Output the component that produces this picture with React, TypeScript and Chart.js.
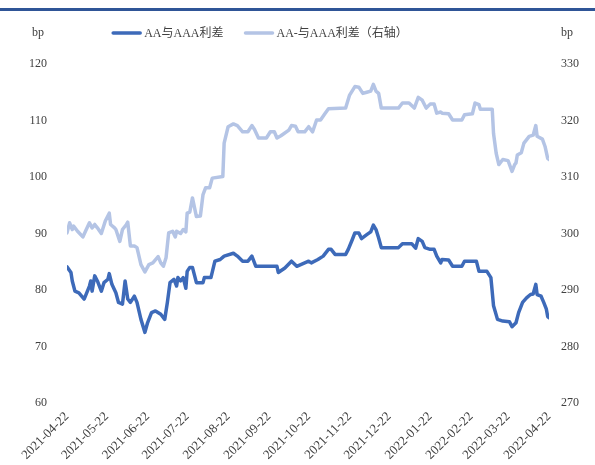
import React, { useEffect, useRef } from 'react';
import { Chart, registerables } from 'chart.js';

Chart.register(...registerables);

const FONT = "'Liberation Serif', 'Noto Sans CJK SC', serif";
const TEXT = '#404040';
const DARK = '#3D6AB9';
const LIGHT = '#B4C4E5';

const seriesNames = ['AA与AAA利差', 'AA-与AAA利差（右轴）'];
const unitLabel = 'bp';

const tickDates = [
  '2021-04-22', '2021-05-22', '2021-06-22', '2021-07-22', '2021-08-22', '2021-09-22', '2021-10-22',
  '2021-11-22', '2021-12-22', '2022-01-22', '2022-02-22', '2022-03-22', '2022-04-22',
];

const aaDates = [
  '2021-04-22', '2021-04-25', '2021-04-26', '2021-04-28', '2021-05-01', '2021-05-05', '2021-05-09', '2021-05-10',
  '2021-05-11', '2021-05-13', '2021-05-15', '2021-05-18', '2021-05-20', '2021-05-23', '2021-05-24', '2021-05-26',
  '2021-05-29', '2021-05-31', '2021-06-03', '2021-06-05', '2021-06-07', '2021-06-09', '2021-06-12', '2021-06-14',
  '2021-06-17', '2021-06-20', '2021-06-22', '2021-06-25', '2021-06-28', '2021-07-02', '2021-07-05', '2021-07-07',
  '2021-07-09', '2021-07-12', '2021-07-14', '2021-07-15', '2021-07-17', '2021-07-19', '2021-07-21', '2021-07-22',
  '2021-07-24', '2021-07-26', '2021-07-29', '2021-08-03', '2021-08-04', '2021-08-09', '2021-08-12', '2021-08-16',
  '2021-08-19', '2021-08-26', '2021-08-29', '2021-09-02', '2021-09-06', '2021-09-09', '2021-09-12', '2021-09-28',
  '2021-09-29', '2021-10-04', '2021-10-09', '2021-10-13', '2021-10-19', '2021-10-22', '2021-10-24', '2021-10-29',
  '2021-11-02', '2021-11-06', '2021-11-08', '2021-11-11', '2021-11-19', '2021-11-21', '2021-11-24', '2021-11-26',
  '2021-11-29', '2021-12-01', '2021-12-05', '2021-12-08', '2021-12-10', '2021-12-12', '2021-12-14', '2021-12-16',
  '2021-12-29', '2022-01-01', '2022-01-08', '2022-01-11', '2022-01-13', '2022-01-16', '2022-01-18', '2022-01-22',
  '2022-01-25', '2022-01-27', '2022-01-30', '2022-01-31', '2022-02-05', '2022-02-08', '2022-02-15', '2022-02-17',
  '2022-02-26', '2022-02-28', '2022-03-06', '2022-03-09', '2022-03-11', '2022-03-14', '2022-03-18', '2022-03-23',
  '2022-03-25', '2022-03-28', '2022-03-30', '2022-04-02', '2022-04-05', '2022-04-08', '2022-04-10', '2022-04-12',
  '2022-04-13', '2022-04-16', '2022-04-18', '2022-04-20', '2022-04-21', '2022-04-22',
];

const aaValues = [
  84.1, 83.1, 81.6, 79.8, 79.5, 78.4, 80.7, 81.6,
  79.8, 82.5, 81.6, 79.8, 81.3, 81.9, 82.9, 81.0,
  79.5, 77.8, 77.5, 81.6, 78.4, 77.8, 78.9, 77.8,
  74.8, 72.5, 74.2, 76.0, 76.3, 75.7, 74.8, 77.8,
  81.3, 81.9, 80.7, 82.2, 81.6, 82.2, 80.3, 83.3,
  84.0, 84.0, 81.3, 81.3, 82.2, 82.2, 85.1, 85.4,
  86.0, 86.5, 86.0, 85.1, 85.1, 86.0, 84.2, 84.2,
  83.1, 83.9, 85.1, 84.2, 84.8, 85.1, 84.8, 85.4,
  86.0, 87.2, 87.2, 86.3, 86.3, 87.2, 88.9, 90.1,
  90.1, 89.1, 89.8, 90.3, 91.5, 90.7, 89.2, 87.5,
  87.5, 88.2, 88.2, 87.4, 89.1, 88.6, 87.5, 87.2,
  87.2, 86.0, 84.8, 85.4, 85.3, 84.2, 84.2, 85.1,
  85.1, 83.3, 83.3, 82.2, 77.2, 74.8, 74.5, 74.4,
  73.5, 74.2, 76.0, 77.8, 78.6, 79.2, 79.3, 81.0,
  79.2, 78.9, 77.8, 76.6, 75.3, 75.1,
];

const aaMinusDates = [
  '2021-04-22', '2021-04-24', '2021-04-26', '2021-04-27', '2021-04-30', '2021-05-04', '2021-05-06', '2021-05-09',
  '2021-05-11', '2021-05-13', '2021-05-15', '2021-05-18', '2021-05-21', '2021-05-24', '2021-05-25', '2021-05-28',
  '2021-05-29', '2021-06-01', '2021-06-03', '2021-06-06', '2021-06-07', '2021-06-09', '2021-06-12', '2021-06-14',
  '2021-06-17', '2021-06-20', '2021-06-23', '2021-06-26', '2021-06-30', '2021-07-02', '2021-07-04', '2021-07-06',
  '2021-07-08', '2021-07-11', '2021-07-13', '2021-07-14', '2021-07-17', '2021-07-19', '2021-07-21', '2021-07-22',
  '2021-07-24', '2021-07-26', '2021-07-29', '2021-08-01', '2021-08-03', '2021-08-05', '2021-08-08', '2021-08-10',
  '2021-08-18', '2021-08-19', '2021-08-22', '2021-08-26', '2021-08-29', '2021-09-02', '2021-09-06', '2021-09-09',
  '2021-09-11', '2021-09-14', '2021-09-20', '2021-09-23', '2021-09-26', '2021-09-28', '2021-10-01', '2021-10-07',
  '2021-10-09', '2021-10-12', '2021-10-14', '2021-10-19', '2021-10-22', '2021-10-25', '2021-10-28', '2021-10-31',
  '2021-11-03', '2021-11-06', '2021-11-19', '2021-11-22', '2021-11-26', '2021-11-29', '2021-12-02', '2021-12-05',
  '2021-12-08', '2021-12-10', '2021-12-12', '2021-12-14', '2021-12-16', '2021-12-29', '2022-01-01', '2022-01-06',
  '2022-01-10', '2022-01-13', '2022-01-16', '2022-01-19', '2022-01-22', '2022-01-25', '2022-01-27', '2022-01-30',
  '2022-01-31', '2022-02-05', '2022-02-08', '2022-02-15', '2022-02-17', '2022-02-23', '2022-02-25', '2022-02-28',
  '2022-03-01', '2022-03-10', '2022-03-11', '2022-03-13', '2022-03-15', '2022-03-18', '2022-03-22', '2022-03-25',
  '2022-03-27', '2022-03-28', '2022-03-29', '2022-04-01', '2022-04-03', '2022-04-07', '2022-04-10', '2022-04-12',
  '2022-04-13', '2022-04-17', '2022-04-19', '2022-04-21', '2022-04-22',
];

const aaMinusValues = [
  300.1, 301.9, 300.7, 301.3, 300.4, 299.4, 300.4, 301.9,
  301.0, 301.6, 301.0, 300.0, 302.2, 303.6, 301.6, 301.0,
  300.7, 298.6, 300.7, 301.6, 302.0, 297.8, 297.8, 297.5,
  294.5, 293.2, 294.5, 294.8, 295.9, 294.8, 294.2, 295.7,
  300.1, 300.4, 299.4, 300.4, 300.0, 300.7, 300.3, 303.6,
  303.8, 306.3, 303.0, 303.1, 306.9, 308.1, 308.1, 309.8,
  310.1, 316.0, 318.9, 319.4, 319.1, 318.0, 318.0, 319.1,
  318.4, 316.9, 316.9, 318.0, 318.0, 316.9, 317.3, 318.3,
  319.1, 319.0, 318.0, 318.0, 318.9, 318.0, 320.1, 320.1,
  321.1, 322.1, 322.2, 324.5, 326.0, 325.9, 324.8, 325.0,
  325.2, 326.4, 325.2, 324.8, 322.2, 322.2, 323.1, 323.1,
  322.2, 324.1, 323.6, 322.2, 322.9, 322.9, 321.3, 321.5,
  321.3, 321.2, 320.1, 320.1, 321.0, 321.2, 323.1, 322.8,
  322.0, 322.0, 317.7, 314.2, 312.2, 313.1, 312.9, 311.0,
  312.2, 312.5, 313.9, 314.3, 316.0, 317.2, 317.4, 319.1,
  317.2, 316.7, 315.4, 313.3, 313.1,
];

const BASE = Date.UTC(2021, 3, 22);
const dayOf = (s: string) => {
  const [y, m, d] = s.split('-').map(Number);
  return Math.round((Date.UTC(y, m - 1, d) - BASE) / 86400000);
};

const tickDays = tickDates.map(dayOf);
const tickLabelByDay: Record<number, string> = {};
tickDates.forEach((d, i) => { tickLabelByDay[tickDays[i]] = d; });

const decorPlugin = {
  id: 'decor',
  afterDraw(chart: any) {
    const ctx = chart.ctx as CanvasRenderingContext2D;
    ctx.save();
    // top rule
    ctx.fillStyle = '#2F5597';
    ctx.fillRect(0, 8, chart.width, 3);
    ctx.font = `12px ${FONT}`;
    ctx.fillStyle = TEXT;
    ctx.textBaseline = 'middle';
    ctx.textAlign = 'left';
    ctx.fillText(unitLabel, 32, 33);
    ctx.fillText(unitLabel, 561, 33);
    // legend
    const colors = [DARK, LIGHT];
    const lineLen = 29;
    const gapText = 3;
    const gapItem = 21;
    const widths = seriesNames.map((n) => ctx.measureText(n).width);
    const total = widths.reduce((a, w) => a + lineLen + gapText + w, 0) + gapItem;
    let x = 260 - total / 2;
    const y = 33;
    seriesNames.forEach((n, i) => {
      ctx.strokeStyle = colors[i];
      ctx.lineWidth = 3.5;
      ctx.lineCap = 'round';
      ctx.beginPath();
      ctx.moveTo(x + 1, y);
      ctx.lineTo(x + lineLen - 1, y);
      ctx.stroke();
      x += lineLen + gapText;
      ctx.fillStyle = TEXT;
      ctx.fillText(n, x, y + 1);
      x += widths[i] + gapItem;
    });
    ctx.restore();
  },
};

export default function App() {
  const ref = useRef<HTMLCanvasElement | null>(null);

  useEffect(() => {
    if (!ref.current) return;
    const font = { family: FONT, size: 12 };
    const chart = new Chart(ref.current, {
      type: 'line',
      data: {
        datasets: [
          {
            label: seriesNames[0],
            data: aaDates.map((d, i) => ({ x: dayOf(d), y: aaValues[i] })),
            borderColor: DARK,
            backgroundColor: DARK,
            borderWidth: 3.5,
            pointRadius: 0,
            tension: 0,
            borderJoinStyle: 'round',
            borderCapStyle: 'round',
            yAxisID: 'y',
          },
          {
            label: seriesNames[1],
            data: aaMinusDates.map((d, i) => ({ x: dayOf(d), y: aaMinusValues[i] })),
            borderColor: LIGHT,
            backgroundColor: LIGHT,
            borderWidth: 3.5,
            pointRadius: 0,
            tension: 0,
            borderJoinStyle: 'round',
            borderCapStyle: 'round',
            yAxisID: 'y1',
          },
        ],
      },
      options: {
        animation: false,
        responsive: false,
        devicePixelRatio: 1,
        layout: { padding: { top: 64, left: 0, right: 0, bottom: 0 } },
        plugins: { legend: { display: false }, tooltip: { enabled: false } },
        scales: {
          x: {
            type: 'linear',
            min: 0,
            max: tickDays[tickDays.length - 1],
            grid: { display: false, drawTicks: false },
            border: { display: false },
            afterBuildTicks: (s: any) => { s.ticks = tickDays.map((v) => ({ value: v })); },
            afterFit: (s: any) => { s.height = 62; },
            ticks: {
              autoSkip: false,
              minRotation: 45,
              maxRotation: 45,
              padding: 6,
              font: { family: FONT, size: 13 },
              color: TEXT,
              callback: (v: any) => tickLabelByDay[Number(v)] ?? '',
            },
          },
          y: {
            position: 'left',
            min: 60,
            max: 120,
            grid: { display: false, drawTicks: false },
            border: { display: false },
            afterFit: (s: any) => { s.width = 67; },
            ticks: { stepSize: 10, padding: 20, font, color: TEXT },
          },
          y1: {
            position: 'right',
            min: 270,
            max: 330,
            grid: { display: false, drawTicks: false },
            border: { display: false },
            afterFit: (s: any) => { s.width = 46; },
            ticks: { stepSize: 10, padding: 12, font, color: TEXT },
          },
        },
      },
      plugins: [decorPlugin],
    } as any);
    return () => chart.destroy();
  }, []);

  return (
    <div style={{ position: 'fixed', left: 0, top: 0, width: 595, height: 465, background: '#fff' }}>
      <canvas ref={ref} width={595} height={465} style={{ display: 'block', width: 595, height: 465 }} />
    </div>
  );
}
